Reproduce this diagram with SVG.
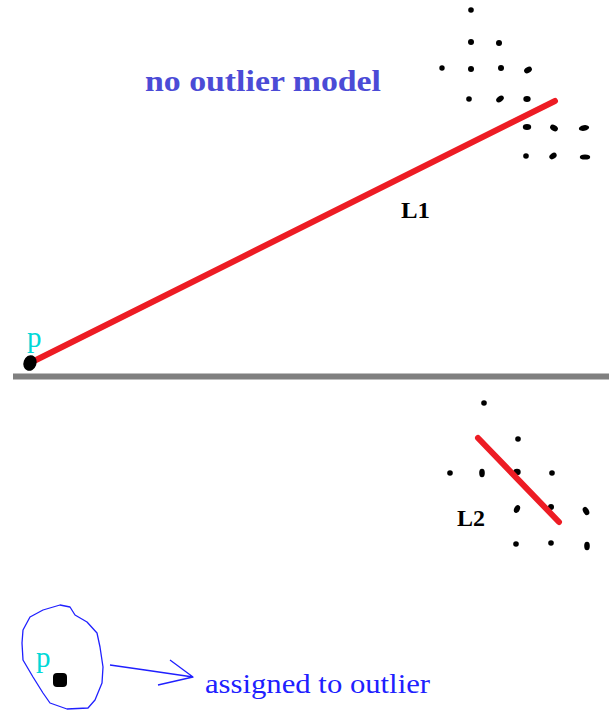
<svg xmlns="http://www.w3.org/2000/svg" width="609" height="712" viewBox="0 0 609 712">
<style>
.d{fill:#000}
.red{stroke:#ed1c24;stroke-width:6;stroke-linecap:round;fill:none}
.cy{fill:#00d8d8;font-family:"Liberation Serif",serif;font-size:29px}
.lab{fill:#000;font-family:"Liberation Serif",serif;font-size:24px;font-weight:bold}
</style>
<rect width="609" height="712" fill="#fff"/>
<g id="title"><text x="145" y="91" fill="#4b4bd6" font-family="Liberation Serif,serif" font-size="30" font-weight="bold" textLength="236" lengthAdjust="spacingAndGlyphs">no outlier model</text></g>
<g id="cluster1">
<circle class="d" cx="471" cy="10" r="2.8"/>
<circle class="d" cx="471" cy="42" r="3"/>
<circle class="d" cx="499" cy="43" r="3"/>
<circle class="d" cx="442" cy="68" r="2.7"/>
<circle class="d" cx="471" cy="69" r="3"/>
<circle class="d" cx="501" cy="68" r="3"/>
<ellipse class="d" cx="528" cy="70" rx="4.2" ry="2.8" transform="rotate(-30 528 70)"/>
<circle class="d" cx="469" cy="99" r="2.8"/>
<ellipse class="d" cx="500" cy="99" rx="4.2" ry="2.8" transform="rotate(-35 500 99)"/>
<ellipse class="d" cx="527" cy="99" rx="3.7" ry="2.9"/>
<ellipse class="d" cx="527" cy="127" rx="4.2" ry="2.9"/>
<ellipse class="d" cx="554" cy="128" rx="4.2" ry="2.8" transform="rotate(30 554 128)"/>
<ellipse class="d" cx="584" cy="128" rx="5.2" ry="2.8" transform="rotate(-10 584 128)"/>
<circle class="d" cx="526" cy="156" r="2.8"/>
<ellipse class="d" cx="553" cy="156" rx="4" ry="2.8" transform="rotate(-35 553 156)"/>
<ellipse class="d" cx="585" cy="157" rx="5.2" ry="2.6"/>
</g>
<g id="cluster2">
<circle class="d" cx="484" cy="403" r="2.8"/>
<circle class="d" cx="518" cy="439" r="2.8"/>
<circle class="d" cx="450" cy="473" r="2.8"/>
<ellipse class="d" cx="482" cy="473" rx="2.8" ry="4.2"/>
<ellipse class="d" cx="517" cy="472" rx="3.7" ry="3.2"/>
<circle class="d" cx="552" cy="473" r="2.8"/>
<ellipse class="d" cx="517" cy="509" rx="2.8" ry="4.2" transform="rotate(25 517 509)"/>
<circle class="d" cx="551" cy="507" r="3"/>
<ellipse class="d" cx="586" cy="511" rx="2.8" ry="4.4" transform="rotate(-30 586 511)"/>
<circle class="d" cx="516" cy="544" r="2.8"/>
<circle class="d" cx="551" cy="543" r="2.8"/>
<ellipse class="d" cx="587" cy="546" rx="2.8" ry="4.2"/>
</g>
<g id="baseline"><line x1="13" y1="376.5" x2="609" y2="376.5" stroke="#808080" stroke-width="6"/></g>
<g id="L1">
<line class="red" x1="32" y1="362" x2="555" y2="101"/>
<text class="lab" x="401" y="218" textLength="29" lengthAdjust="spacingAndGlyphs">L1</text>
</g>
<g id="L2">
<line class="red" x1="478" y1="438" x2="559" y2="522"/>
<text class="lab" x="457" y="526" textLength="28" lengthAdjust="spacingAndGlyphs">L2</text>
</g>
<g id="p1">
<ellipse cx="30" cy="363" rx="6.5" ry="8" fill="#000" transform="rotate(20 30 363)"/>
<text class="cy" x="27" y="347">p</text>
</g>
<g id="p2">
<path d="M23,630 L30,617 L43,610 L60,605 L70,607 L75,615 L87,622 L97,633 L100,647 L103,667 L102,683 L95,700 L88,708 L67,709 L50,703 L43,693 L33,677 L23,660 L22,643 Z" fill="none" stroke="#2020ff" stroke-width="1.3" stroke-linejoin="round"/>
<rect x="53" y="673" width="14" height="14" rx="4" fill="#000"/>
<text class="cy" x="36" y="667">p</text>
</g>
<g id="connectors">
<path d="M110,665 L145,670 L193,677 M170,660 L193,677 L158,685" fill="none" stroke="#2020ff" stroke-width="1.3" stroke-linejoin="round"/>
</g>
<g id="outlier"><text x="205" y="693" fill="#2020ff" font-family="Liberation Serif,serif" font-size="28" textLength="225" lengthAdjust="spacingAndGlyphs">assigned to outlier</text></g>
</svg>
